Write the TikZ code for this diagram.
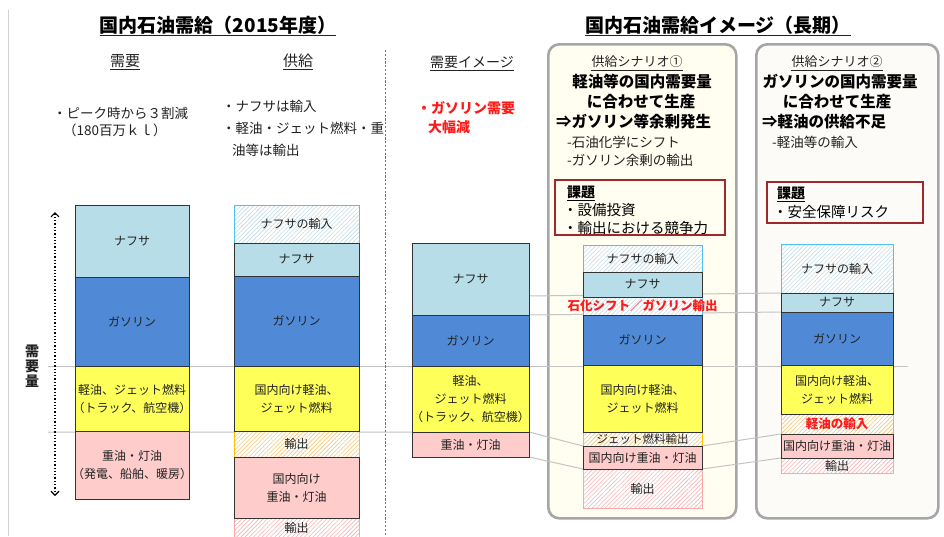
\documentclass[tikz,border=0pt]{standalone}
\usepackage{fontspec}
\setmainfont{Noto Sans CJK JP}
\usetikzlibrary{patterns.meta,arrows.meta}
\pgfdeclarelayer{back}
\pgfdeclarelayer{guide}
\pgfsetlayers{back,guide,main}
\definecolor{naph}{HTML}{B7DDE8}
\definecolor{gaso}{HTML}{5089D6}
\definecolor{dies}{HTML}{FFFF5A}
\definecolor{heavy}{HTML}{FFCCCC}
\definecolor{barline}{HTML}{333333}
\definecolor{guidec}{HTML}{C4C4C4}
\definecolor{hbB}{HTML}{4FC3F0}
\definecolor{hlB}{HTML}{C5DCE6}
\definecolor{hbY}{HTML}{FFC000}
\definecolor{hlY}{HTML}{F2C77A}
\definecolor{hbP}{HTML}{F7A9A9}
\definecolor{hlP}{HTML}{F5B5B5}
\definecolor{kadai}{HTML}{A0282D}
\definecolor{scen}{HTML}{A6A6A6}
\definecolor{scA}{HTML}{FFFEF0}
\definecolor{scB}{HTML}{FCFBF8}
\definecolor{txt}{HTML}{222222}
\definecolor{redt}{HTML}{FF1A1A}
\newcommand{\bseg}[6]{\node[#2, minimum width=#5pt, minimum height=#6pt] (#1) at (#3,#4) {};}
\newcommand{\ulnode}[1]{\draw[ulline] ([yshift=-3pt]#1.base west) -- ([yshift=-3pt]#1.base east);}
\begin{document}
\begin{tikzpicture}[x=1pt,y=-1pt,
  seg/.style={draw=barline, line width=0.9pt, inner sep=0pt, outer sep=0pt, anchor=north west},
  naphS/.style={seg, fill=naph},
  gasS/.style={seg, fill=gaso},
  dieS/.style={seg, fill=dies},
  hvyS/.style={seg, fill=heavy},
  hatchB/.style={seg, draw=hbB, preaction={fill=white}, pattern={Lines[angle=45,distance=3pt,line width=0.6pt]}, pattern color=hlB},
  hatchY/.style={seg, draw=hbY, preaction={fill=white}, pattern={Lines[angle=45,distance=3pt,line width=0.6pt]}, pattern color=hlY},
  hatchP/.style={seg, draw=hbP, preaction={fill=white}, pattern={Lines[angle=45,distance=3pt,line width=0.6pt]}, pattern color=hlP},
  lbl/.style={font=\fontsize{12}{18}\selectfont, text=txt, align=center, inner sep=0pt},
  redlbl/.style={font=\fontsize{12.5}{15}\selectfont\bfseries, text=redt, align=center, inner sep=0pt},
  body/.style={font=\fontsize{13.5}{16}\selectfont, text=txt, inner sep=0pt},
  bodyW/.style={body, anchor=west},
  head/.style={font=\fontsize{15}{18}\selectfont, text=txt, inner sep=0pt},
  bold/.style={font=\fontsize{15.5}{18}\selectfont\bfseries, text=black, inner sep=0pt},
  kad/.style={font=\fontsize{14.5}{17}\selectfont, text=black, inner sep=0pt, anchor=west},
  title/.style={font=\fontsize{19}{22}\selectfont\bfseries, text=black, inner sep=0pt},
  ulline/.style={draw=txt, line width=0.9pt},
  guide/.style={draw=guidec, line width=1pt},
  scenbox/.style={draw=scen, line width=2.6pt, rounded corners=11pt, anchor=north west, inner sep=0pt},
  kadaibox/.style={draw=kadai, line width=1.4pt}
]
\begin{pgfonlayer}{back}
\fill[white] (0,0) rectangle (944,536);
\node[scenbox, fill=scA, minimum width=188pt, minimum height=474pt] (sc1) at (547,43) {};
\node[scenbox, fill=scB, minimum width=182pt, minimum height=474pt] (sc2) at (755,43) {};
\end{pgfonlayer}
\useasboundingbox (0,0) rectangle (944,536);

% left border and divider
\coordinate (lbT) at (8,10); \coordinate (lbB) at (8,536);
\draw[draw=black!18, line width=0.8pt] (lbT) -- (lbB);
\coordinate (dvT) at (385,50); \coordinate (dvB) at (385,536);
\draw[draw=black!55, line width=1pt, dash pattern=on 2.2pt off 1.6pt] (dvT) -- (dvB);

% titles
\node[title] (t1) at (218,25) {国内石油需給（2015年度）}; \ulnode{t1}
\node[title] (t2) at (718,25) {国内石油需給イメージ（長期）}; \ulnode{t2}

% left headings
\node[head] (h1) at (125,61) {需要}; \draw[draw=txt, line width=0.6pt] ([yshift=-3pt]h1.base west) -- ([yshift=-3pt]h1.base east);
\node[head] (h2) at (298,61) {供給}; \draw[draw=txt, line width=0.6pt] ([yshift=-3pt]h2.base west) -- ([yshift=-3pt]h2.base east);
\node[head, font=\fontsize{14}{17}\selectfont] (h3) at (472,62) {需要イメージ}; \draw[draw=txt, line width=0.6pt] ([yshift=-3pt]h3.base west) -- ([yshift=-3pt]h3.base east);

\node[bodyW] (d1) at (53,113) {・ピーク時から３割減};
\node[bodyW] (d2) at (63,130) {（180百万ｋｌ）};
\node[bodyW] (s1) at (222,106) {・ナフサは輸入};
\node[bodyW] (s2) at (222,128) {・軽油・ジェット燃料・重};
\node[bodyW] (s3) at (232,150) {油等は輸出};
\node[bodyW, font=\fontsize{14}{17}\selectfont\bfseries, text=redt] (r1) at (417,108) {・ガソリン需要};
\node[bodyW, font=\fontsize{14}{17}\selectfont\bfseries, text=redt] (r2) at (428,127) {大幅減};

% scenario 1 text
\node[head, font=\fontsize{13}{16}\selectfont] (c1) at (637,62) {供給シナリオ①}; \draw[draw=txt, line width=0.6pt] ([yshift=-3pt]c1.base west) -- ([yshift=-3pt]c1.base east);
\node[bold] (c1a) at (642,82) {軽油等の国内需要量};
\node[bold] (c1b) at (641,102) {に合わせて生産};
\node[bold, anchor=west] (c1c) at (556,122) {⇒ガソリン等余剰発生};
\node[bodyW] (c1d) at (567,142) {-石油化学にシフト};
\node[bodyW] (c1e) at (567,160) {-ガソリン余剰の輸出};
\draw[kadaibox] (555,180) rectangle (725,235);
\node[kad, font=\fontsize{14}{17}\selectfont\bfseries] (k1) at (567,192) {課題}; \draw[draw=black, line width=0.7pt] ([yshift=-3pt]k1.base west) -- ([yshift=-3pt]k1.base east);
\node[kad] (k1a) at (563,210) {・設備投資};
\node[kad] (k1b) at (563,228) {・輸出における競争力};

% scenario 2 text
\node[head, font=\fontsize{13}{16}\selectfont] (c2) at (837,62) {供給シナリオ②}; \draw[draw=txt, line width=0.6pt] ([yshift=-3pt]c2.base west) -- ([yshift=-3pt]c2.base east);
\node[bold] (c2a) at (840,82) {ガソリンの国内需要量};
\node[bold] (c2b) at (837,102) {に合わせて生産};
\node[bold, anchor=west] (c2c) at (762,122) {⇒軽油の供給不足};
\node[bodyW] (c2d) at (772,142) {-軽油等の輸入};
\draw[kadaibox] (767,182) rectangle (923,223);
\node[kad, font=\fontsize{14}{17}\selectfont\bfseries] (k2) at (777,193) {課題}; \draw[draw=black, line width=0.7pt] ([yshift=-3pt]k2.base west) -- ([yshift=-3pt]k2.base east);
\node[kad] (k2a) at (773,212) {・安全保障リスク};

% demand axis
\coordinate (arT) at (55,212); \coordinate (arB) at (55,496);
\draw[line width=1.3pt, dotted, {Straight Barb[length=4pt,width=8pt,line width=1.2pt]}-{Straight Barb[length=4pt,width=8pt,line width=1.2pt]}] (arT) -- (arB);
\node[font=\fontsize{14}{15}\selectfont\bfseries, align=center, inner sep=0pt, text=txt] (ax) at (32,366) {需\\要\\量};

% bar 1
\bseg{b1n}{naphS}{75}{205}{114}{72}
\bseg{b1g}{gasS}{75}{277}{114}{89}
\bseg{b1y}{dieS}{75}{366}{114}{65}
\bseg{b1h}{hvyS}{75}{431}{114}{68}
% bar 2
\bseg{b2i}{hatchB}{234}{205}{125}{38}
\bseg{b2x}{hatchY}{234}{431}{125}{26}
\bseg{b2e}{hatchP}{234}{518}{125}{20}
\bseg{b2n}{naphS}{234}{243}{125}{33}
\bseg{b2g}{gasS}{234}{276}{125}{90}
\bseg{b2y}{dieS}{234}{366}{125}{65}
\bseg{b2h}{hvyS}{234}{457}{125}{61}
% bar 3
\bseg{b3n}{naphS}{412}{243}{117}{72}
\bseg{b3g}{gasS}{412}{315}{117}{51}
\bseg{b3y}{dieS}{412}{366}{117}{66}
\bseg{b3h}{hvyS}{412}{432}{117}{25}
% bar 4
\bseg{b4i}{hatchB}{583}{245}{119}{27}
\bseg{b4s}{hatchB}{583}{297}{119}{18}
\bseg{b4x}{hatchY}{583}{432}{119}{14}
\bseg{b4e}{hatchP}{583}{469}{119}{39}
\bseg{b4n}{naphS}{583}{272}{119}{25}
\bseg{b4g}{gasS}{583}{315}{119}{50}
\bseg{b4y}{dieS}{583}{365}{119}{67}
\bseg{b4h}{hvyS}{583}{446}{119}{23}
% bar 5
\bseg{b5i}{hatchB}{781}{244}{112}{49}
\bseg{b5x}{hatchY}{781}{414}{112}{20}
\bseg{b5e}{hatchP}{781}{458}{112}{15}
\bseg{b5n}{naphS}{781}{293}{112}{19}
\bseg{b5g}{gasS}{781}{312}{112}{53}
\bseg{b5y}{dieS}{781}{365}{112}{49}
\bseg{b5h}{hvyS}{781}{434}{112}{24}

% guide lines
\begin{pgfonlayer}{guide}
\coordinate (gA) at (48,366); \coordinate (gB) at (908,366);
\draw[guide] (gA) -- (gB);
\coordinate (gC) at (48,432);
\draw[guide] (gC) -- (b3y.south east) -- (b4x.south west) -- (b4x.south east) -- (b5h.north west);
\draw[guide] (b3h.south east) -- (b4h.south west) -- (b4h.south east) -- (b5h.south west);
\coordinate (gD) at (529,296);
\draw[guide] (gD) -- (b5n.north west);
\draw[guide] (b3n.south east) -- (b5n.south west);
\end{pgfonlayer}

% labels
\node[lbl] (b1n-t) at (b1n) {ナフサ};
\node[lbl] (b1g-t) at (b1g) {ガソリン};
\node[lbl] (b1y-t) at (b1y) {軽油、ジェット燃料\\（トラック、航空機）};
\node[lbl] (b1h-t) at (b1h) {重油・灯油\\（発電、船舶、暖房）};
\node[lbl] (b2i-t) at (b2i) {ナフサの輸入};
\node[lbl] (b2n-t) at (b2n) {ナフサ};
\node[lbl] (b2g-t) at (b2g) {ガソリン};
\node[lbl] (b2y-t) at (b2y) {国内向け軽油、\\ジェット燃料};
\node[lbl] (b2x-t) at (b2x) {輸出};
\node[lbl] (b2h-t) at (b2h) {国内向け\\重油・灯油};
\node[lbl] (b2e-t) at (b2e) {輸出};
\node[lbl] (b3n-t) at (b3n) {ナフサ};
\node[lbl] (b3g-t) at (b3g) {ガソリン};
\node[lbl] (b3y-t) at (b3y) {軽油、\\ジェット燃料\\（トラック、航空機）};
\node[lbl] (b3h-t) at (b3h) {重油・灯油};
\node[lbl] (b4i-t) at (b4i) {ナフサの輸入};
\node[lbl] (b4n-t) at (b4n) {ナフサ};
\node[redlbl] (b4s-t) at (b4s) {石化シフト／ガソリン輸出};
\node[lbl] (b4g-t) at (b4g) {ガソリン};
\node[lbl] (b4y-t) at (b4y) {国内向け軽油、\\ジェット燃料};
\node[lbl, font=\fontsize{11.5}{13}\selectfont] (b4x-t) at (b4x) {ジェット燃料輸出};
\node[lbl] (b4h-t) at (b4h) {国内向け重油・灯油};
\node[lbl] (b4e-t) at (b4e) {輸出};
\node[lbl] (b5i-t) at (b5i) {ナフサの輸入};
\node[lbl] (b5n-t) at (b5n) {ナフサ};
\node[lbl] (b5g-t) at (b5g) {ガソリン};
\node[lbl] (b5y-t) at (b5y) {国内向け軽油、\\ジェット燃料};
\node[redlbl] (b5x-t) at (b5x) {軽油の輸入};
\node[lbl] (b5h-t) at (b5h) {国内向け重油・灯油};
\node[lbl] (b5e-t) at (b5e) {輸出};
\end{tikzpicture}
\end{document}
